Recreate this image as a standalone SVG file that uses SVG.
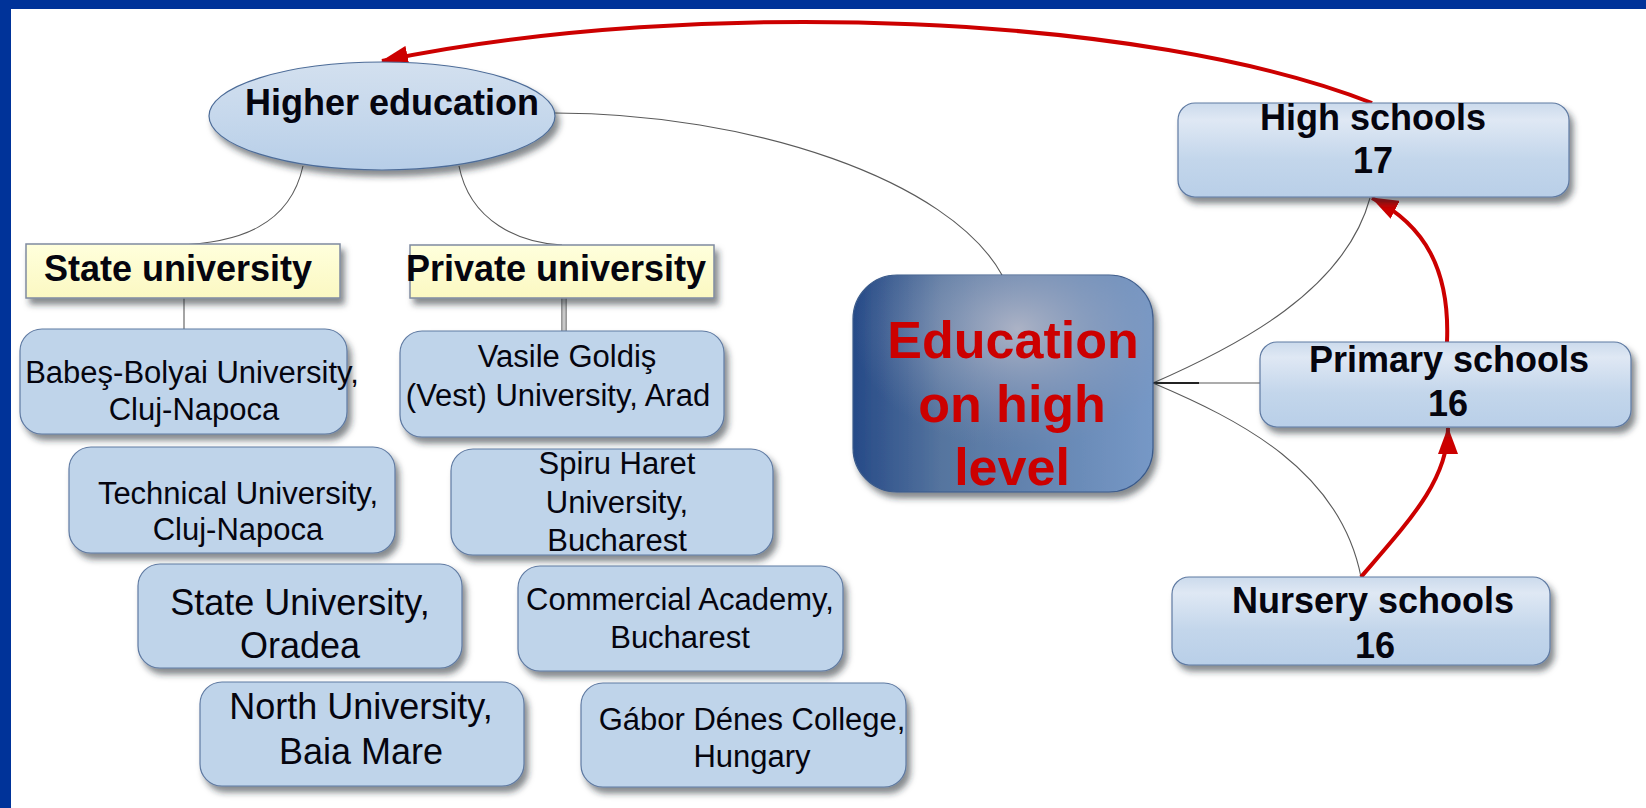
<svg xmlns="http://www.w3.org/2000/svg" width="1646" height="808" viewBox="0 0 1646 808">
  <defs>
    <style>
      text { font-family: "Liberation Sans", Arial, sans-serif; fill: #05050f; }
      .lbl { font-weight: bold; font-size: 36px; text-anchor: middle; }
      .uni { font-size: 31px; text-anchor: middle; }
      .uniL { font-size: 36px; text-anchor: middle; }
      .edu { font-weight: bold; font-size: 52px; text-anchor: middle; fill: #cc0000; }
      .conn { fill: none; stroke: #5a5a5a; stroke-width: 1.1; }
      .red { fill: none; stroke: #cc0000; stroke-width: 4; }
      .ubox { fill: #bfd4ea; stroke: #5f7aa2; stroke-width: 1.2; filter: url(#shadow); }
      .sbox { fill: url(#boxGrad); stroke: #5f7aa2; stroke-width: 1.2; filter: url(#shadow); }
      .ybox { fill: url(#yellowGrad); stroke: #7f8aa0; stroke-width: 1.5; filter: url(#shadow); }
    </style>
    <filter id="shadow" x="-10%" y="-20%" width="125%" height="150%">
      <feDropShadow dx="4" dy="6" stdDeviation="3" flood-color="#202530" flood-opacity="0.55"/>
    </filter>
    <linearGradient id="boxGrad" x1="0" y1="0" x2="0" y2="1">
      <stop offset="0" stop-color="#cbdaec"/>
      <stop offset="0.18" stop-color="#dfe8f4"/>
      <stop offset="0.6" stop-color="#c3d6eb"/>
      <stop offset="1" stop-color="#b9cfe8"/>
    </linearGradient>
    <linearGradient id="ellGrad" x1="0" y1="0" x2="0" y2="1">
      <stop offset="0" stop-color="#d3e0ef"/>
      <stop offset="0.5" stop-color="#c6d8ec"/>
      <stop offset="1" stop-color="#b7cee8"/>
    </linearGradient>
    <linearGradient id="yellowGrad" x1="0" y1="0" x2="0" y2="1">
      <stop offset="0" stop-color="#ffffdc"/>
      <stop offset="1" stop-color="#fbf8c2"/>
    </linearGradient>
    <linearGradient id="eduBase" x1="0" y1="0" x2="1" y2="0">
      <stop offset="0" stop-color="#264a87"/>
      <stop offset="0.3" stop-color="#56759f"/>
      <stop offset="1" stop-color="#7698c6"/>
    </linearGradient>
    <radialGradient id="eduGlow" cx="0.55" cy="0.25" r="0.55">
      <stop offset="0" stop-color="#b4b8c8" stop-opacity="0.9"/>
      <stop offset="0.6" stop-color="#9aa6c0" stop-opacity="0.35"/>
      <stop offset="1" stop-color="#8090b0" stop-opacity="0"/>
    </radialGradient>
    <marker id="redHead" markerUnits="userSpaceOnUse" markerWidth="28" markerHeight="20" refX="26" refY="10" orient="auto">
      <path d="M0,0 L27,10 L0,20 z" fill="#cc0000"/>
    </marker>
  </defs>

  <!-- page background and frame -->
  <rect x="0" y="0" width="1646" height="808" fill="#ffffff"/>
  <rect x="0" y="0" width="1646" height="9" fill="#003399"/>
  <rect x="0" y="0" width="11" height="808" fill="#003399"/>

  <!-- connectors -->
  <g id="connectors">
    <path class="conn" d="M303,166 C290,225 240,243 176,245"/>
    <path class="conn" d="M459,166 C470,222 520,243 562,245"/>
    <path class="conn" d="M184,298 V330"/>
    <path d="M562,298 V332 M566,298 V332" stroke="#555" stroke-width="1.2" fill="none"/>
    <rect x="562.6" y="298" width="2.8" height="34" fill="#c8c8c8"/>
    <path class="conn" d="M555,113 C750,113 950,180 1002,275"/>
    <path class="conn" d="M1153,383 C1240,345 1345,290 1370,198"/>
    <path class="conn" d="M1153,383 H1260"/>
    <path d="M1153,383 H1199" stroke="#222" stroke-width="2" fill="none"/>
    <path class="conn" d="M1153,383 C1240,420 1340,470 1361,577"/>

    <path class="red" d="M1372,103 C1150,15 700,-5 382,61" marker-end="url(#redHead)"/>
    <path class="red" d="M1447,342 C1450,270 1425,225 1372,198" marker-end="url(#redHead)"/>
    <path class="red" d="M1361,577 C1410,520 1448,480 1448,428" marker-end="url(#redHead)"/>
  </g>

  <!-- Higher education -->
  <g id="higher-education">
    <ellipse cx="382" cy="116" rx="173" ry="54" fill="url(#ellGrad)" stroke="#4d6c98" stroke-width="1.2" filter="url(#shadow)"/>
    <text class="lbl" x="392" y="115">Higher education</text>
  </g>

  <g id="state-university">
    <rect class="ybox" x="26" y="244" width="314" height="54"/>
    <text class="lbl" x="178" y="281">State university</text>
  </g>

  <g id="private-university">
    <rect class="ybox" x="410" y="245" width="304" height="53"/>
    <text class="lbl" x="556" y="281">Private university</text>
  </g>

  <!-- state universities -->
  <g id="babes-bolyai">
    <rect class="ubox" x="20" y="329" width="327" height="105" rx="22"/>
    <text class="uni" x="192" y="383">Babeş-Bolyai University,</text>
    <text class="uni" x="194" y="420">Cluj-Napoca</text>
  </g>

  <g id="technical-university">
    <rect class="ubox" x="69" y="447" width="326" height="106" rx="22"/>
    <text class="uni" x="238" y="504">Technical University,</text>
    <text class="uni" x="238" y="540">Cluj-Napoca</text>
  </g>

  <g id="state-university-oradea">
    <rect class="ubox" x="138" y="564" width="324" height="104" rx="22"/>
    <text class="uniL" x="300" y="615">State University,</text>
    <text class="uniL" x="300" y="658">Oradea</text>
  </g>

  <g id="north-university">
    <rect class="ubox" x="200" y="682" width="324" height="104" rx="22"/>
    <text class="uniL" x="361" y="719">North University,</text>
    <text class="uniL" x="361" y="764">Baia Mare</text>
  </g>

  <!-- private universities -->
  <g id="vasile-goldis">
    <rect class="ubox" x="400" y="331" width="324" height="106" rx="22"/>
    <text class="uni" x="567" y="367">Vasile Goldiş</text>
    <text class="uni" x="558" y="406">(Vest) University, Arad</text>
  </g>

  <g id="spiru-haret">
    <rect class="ubox" x="451" y="449" width="322" height="106" rx="22"/>
    <text class="uni" x="617" y="474">Spiru Haret</text>
    <text class="uni" x="617" y="513">University,</text>
    <text class="uni" x="617" y="551">Bucharest</text>
  </g>

  <g id="commercial-academy">
    <rect class="ubox" x="518" y="566" width="325" height="105" rx="22"/>
    <text class="uni" x="680" y="610">Commercial Academy,</text>
    <text class="uni" x="680" y="648">Bucharest</text>
  </g>

  <g id="gabor-denes">
    <rect class="ubox" x="581" y="683" width="325" height="104" rx="22"/>
    <text class="uni" x="752" y="730">Gábor Dénes College,</text>
    <text class="uni" x="752" y="767">Hungary</text>
  </g>

  <!-- central node -->
  <g id="education-high-level">
    <rect x="853" y="275" width="300" height="217" rx="44" fill="url(#eduBase)" stroke="#3a5a8a" stroke-width="1.2" filter="url(#shadow)"/>
    <rect x="853" y="275" width="300" height="217" rx="44" fill="url(#eduGlow)"/>
    <text class="edu" x="1013" y="358">Education</text>
    <text class="edu" x="1012" y="422">on high</text>
    <text class="edu" x="1012" y="485">level</text>
  </g>

  <!-- school levels -->
  <g id="high-schools">
    <rect class="sbox" x="1178" y="103" width="391" height="94" rx="17"/>
    <text class="lbl" x="1373" y="130">High schools</text>
    <text class="lbl" x="1373" y="173">17</text>
  </g>

  <g id="primary-schools">
    <rect class="sbox" x="1260" y="342" width="371" height="85" rx="17"/>
    <text class="lbl" x="1449" y="372">Primary schools</text>
    <text class="lbl" x="1448" y="416">16</text>
  </g>

  <g id="nursery-schools">
    <rect class="sbox" x="1172" y="577" width="378" height="88" rx="17"/>
    <text class="lbl" x="1373" y="613">Nursery schools</text>
    <text class="lbl" x="1375" y="658">16</text>
  </g>
</svg>
